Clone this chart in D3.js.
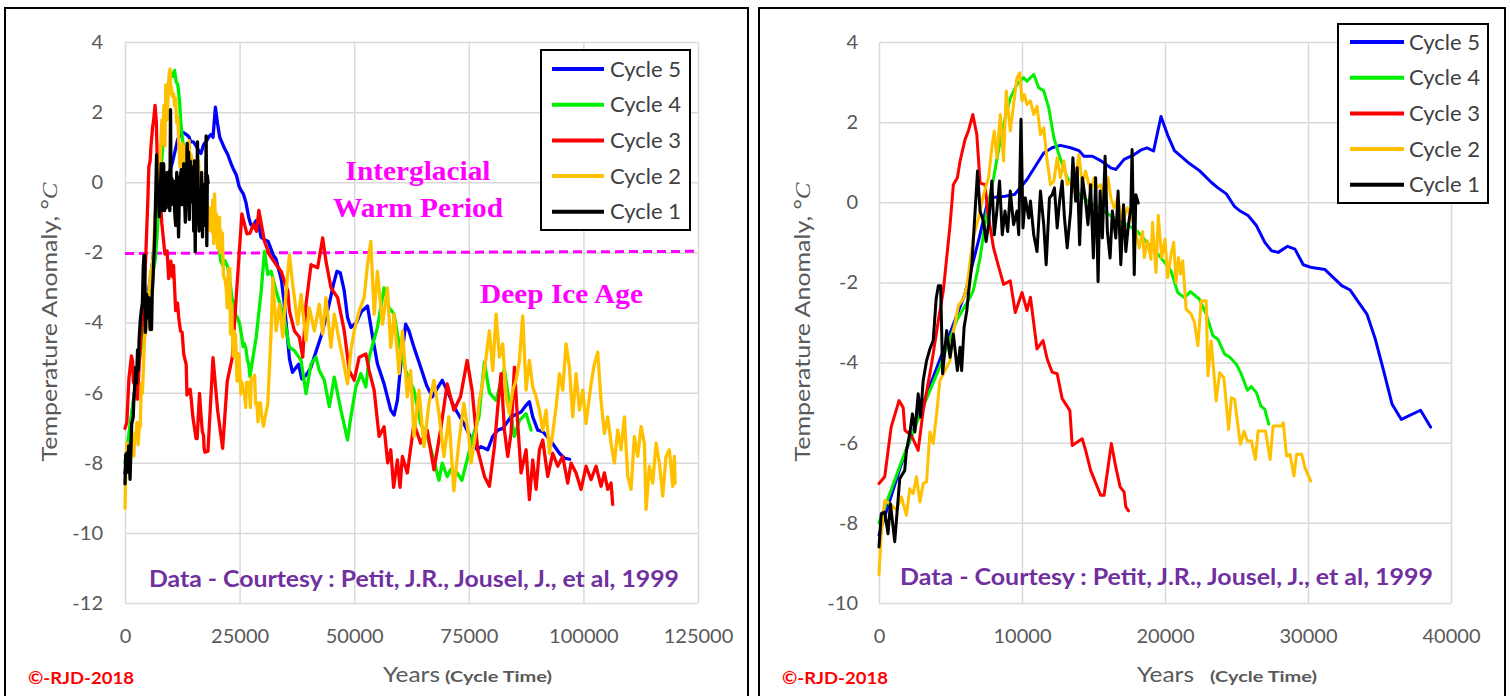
<!DOCTYPE html>
<html><head><meta charset="utf-8">
<script src="https://cdn.jsdelivr.net/npm/d3@7"></script>
<style>html,body{margin:0;padding:0;background:#fff;overflow:hidden} svg{display:block}</style>
</head><body>
<script>
// ---------------- DATA ----------------
const seriesNames = ["Cycle 5", "Cycle 4", "Cycle 3", "Cycle 2", "Cycle 1"];
const seriesColors = ["#0000FF", "#00F000", "#FF0000", "#FFC000", "#000000"];

// [years into cycle, temperature anomaly °C]
const cycle5 = [[0,-8.3],[1500,-6.6],[3000,-5.1],[4500,-3.7],[6000,-2.3],[7000,-0.9],[7660,0.11],[8830,0.15],[9500,0.2],[10350,0.57],[11520,1.23],[12100,1.36],[12690,1.42],[13400,1.36],[13980,1.29],[14330,1.15],[14920,1.15],[15500,1.04],[16200,0.86],[16560,0.82],[17140,1.07],[17850,1.19],[18300,1.3],[18735,1.36],[19200,1.28],[19720,2.14],[20190,1.67],[20660,1.29],[21590,1.0],[22410,0.79],[23230,0.5],[23700,0.36],[24290,0.21],[24870,-0.11],[25220,-0.21],[25810,-0.33],[26390,-0.58],[26980,-1.0],[27450,-1.21],[27920,-1.25],[28570,-1.1],[29090,-1.17],[29670,-1.56],[30260,-1.63],[31190,-1.68],[32360,-2.08],[32950,-2.19],[33540,-2.5],[34120,-2.79],[34710,-3.42],[35290,-4.21],[35880,-5.04],[36530,-5.42],[37870,-5.19],[38570,-5.61],[39500,-5.5],[40500,-5.3],[41500,-4.9],[43000,-4.3],[44500,-3.5],[45500,-2.9],[46230,-2.54],[46960,-2.58],[47830,-3.1],[48550,-3.86],[49280,-4.14],[50500,-4.0],[51500,-3.7],[52900,-3.53],[54000,-4.4],[55070,-5.18],[56520,-5.75],[57970,-6.5],[58700,-6.64],[59420,-6.22],[60300,-5.0],[61230,-4.05],[61960,-4.24],[63040,-4.71],[64490,-5.27],[65800,-5.8],[67030,-6.12],[68000,-5.9],[69200,-5.65],[70500,-6.0],[71740,-6.4],[73910,-6.88],[75500,-7.3],[76810,-7.63],[77680,-7.54],[79140,-7.63],[80230,-7.25],[81320,-7.07],[82410,-7.02],[84220,-6.69],[86400,-6.55],[87500,-6.36],[88220,-6.26],[88950,-6.69],[90040,-7.07],[91130,-7.11],[93000,-7.4],[94770,-7.73],[95860,-7.87],[97000,-7.9]];

const cycle4 = [[0,-8.0],[1690,-6.36],[3090,-5.1],[4260,-4.1],[5430,-2.95],[6370,-2.37],[6600,-2.2],[7070,-1.39],[7540,-0.22],[8010,0.6],[8600,1.78],[9180,2.6],[9650,2.94],[10120,3.11],[10350,3.02],[10820,3.19],[11170,2.86],[11520,2.78],[11870,2.36],[12230,1.61],[12580,1.19],[13160,0.61],[13750,0.28],[14330,0.11],[14800,-0.02],[15600,-0.2],[16500,-0.4],[17300,-0.55],[18080,-0.73],[18780,-1.02],[19720,-1.38],[20420,-1.71],[20890,-2.25],[21360,-2.38],[21780,-2.23],[22410,-2.42],[22880,-2.79],[23350,-3.33],[23700,-3.42],[24170,-3.79],[24520,-3.86],[24990,-4.04],[25340,-4.29],[25760,-4.69],[26040,-4.6],[26390,-4.75],[26700,-5.08],[26980,-5.17],[27260,-5.54],[28620,-4.42],[29710,-3.1],[30430,-1.97],[31160,-2.63],[31880,-2.54],[32970,-3.1],[34060,-3.58],[34780,-3.91],[35870,-4.71],[36960,-4.8],[38410,-5.08],[39490,-6.03],[40580,-5.18],[41670,-4.99],[42390,-5.37],[43480,-5.65],[44570,-6.4],[45650,-5.56],[47100,-6.5],[48550,-7.35],[49280,-6.69],[50360,-5.84],[51450,-5.46],[52540,-5.84],[53260,-4.99],[55070,-4.14],[56520,-3.01],[57610,-3.58],[58700,-3.76],[59780,-4.61],[61230,-5.37],[63040,-5.93],[64490,-6.88],[65940,-7.25],[67390,-7.92],[68500,-8.5],[69200,-8.01],[70300,-8.4],[71010,-8.2],[72460,-8.29],[73500,-8.5],[74640,-7.92],[76000,-7.2],[77200,-6.7],[78400,-5.13],[79500,-6.0],[80950,-6.22],[82770,-5.32],[84000,-6.5],[84950,-7.25],[86000,-6.8],[87500,-6.6],[88590,-7.07]];

const cycle3 = [[0,-7.02],[400,-6.85],[850,-5.61],[1400,-4.95],[1690,-5.12],[1810,-5.69],[2270,-5.82],[2740,-6.19],[3090,-5.2],[3680,-4.03],[4150,-2.95],[4500,-2.2],[4970,-0.56],[5200,0.44],[5480,0.61],[5670,1.03],[6020,1.57],[6250,1.78],[6560,2.19],[6840,1.69],[7070,0.48],[7420,0.44],[7590,-0.22],[8010,-1.14],[8360,-1.6],[8710,-2.05],[9180,-1.96],[9530,-2.75],[10000,-2.25],[10350,-2.7],[10590,-2.37],[11050,-3.66],[11470,-3.45],[11760,-3.91],[12110,-4.24],[12460,-4.28],[12810,-4.9],[13350,-5.2],[13510,-6.07],[14210,-5.9],[14450,-6.19],[14800,-6.69],[15500,-7.31],[15740,-7.31],[16250,-6.02],[16560,-6.61],[16860,-7.1],[17140,-7.23],[17260,-7.6],[17450,-7.7],[18100,-7.67],[19200,-5.0],[20200,-6.5],[21300,-7.59],[22300,-5.68],[23400,-5.0],[24300,-3.2],[25500,-0.9],[26600,-1.47],[27280,-1.45],[28000,-1.2],[28700,-1.4],[29200,-0.8],[30430,-1.69],[31520,-2.07],[32970,-2.35],[34060,-2.54],[35510,-3.1],[35870,-3.67],[36960,-4.24],[38050,-4.42],[38770,-4.99],[39490,-3.48],[40580,-2.35],[42030,-2.44],[43120,-1.59],[43840,-2.25],[44930,-3.01],[46380,-3.29],[47830,-4.24],[48910,-5.37],[50000,-5.65],[51090,-4.99],[52540,-4.9],[53260,-5.37],[54350,-5.93],[55430,-7.25],[56520,-6.97],[57300,-8.0],[57970,-7.63],[58600,-8.7],[59420,-7.92],[60000,-8.7],[60510,-7.82],[61590,-8.29],[62300,-7.6],[63040,-6.88],[64490,-7.44],[65940,-7.07],[67390,-8.2],[68840,-7.07],[70290,-5.75],[71740,-6.5],[73190,-6.12],[74640,-5.08],[75720,-5.93],[76950,-7.63],[78410,-8.39],[79500,-8.67],[80590,-7.54],[81320,-6.41],[82040,-5.46],[82770,-7.07],[83500,-7.82],[84220,-7.16],[84950,-5.27],[85670,-6.88],[86400,-8.29],[87500,-7.63],[88220,-9.05],[88950,-7.92],[89680,-8.76],[90400,-7.63],[91130,-7.35],[92220,-8.39],[93310,-7.73],[94400,-8.1],[95490,-7.82],[96580,-8.58],[97310,-8.01],[98400,-8.29],[99490,-8.76],[100580,-8.1],[101670,-8.48],[102760,-8.1],[103850,-8.67],[104580,-8.29],[105310,-8.76],[106030,-8.58],[106400,-9.19]];

const cycle2 = [[0,-9.3],[150,-8.3],[400,-7.44],[750,-7.52],[1220,-7.68],[1570,-7.35],[1920,-7.81],[2150,-7.15],[2390,-7.27],[2620,-6.85],[2860,-7.48],[3090,-7.02],[3330,-6.98],[3560,-5.73],[3790,-6.02],[4030,-5.27],[4260,-4.45],[4500,-4.28],[4970,-3.95],[5200,-3.24],[5550,-2.58],[5900,-2.41],[6140,-2.12],[6370,-1.48],[6600,-0.89],[6960,-0.39],[7310,0.19],[7660,0.61],[7890,1.36],[8060,1.78],[8240,1.11],[8480,2.19],[8710,1.03],[8900,2.78],[9180,1.78],[9410,2.44],[9650,3.11],[9840,3.23],[10000,2.53],[10160,2.69],[10350,2.44],[10590,2.53],[10820,2.19],[11050,2.4],[11290,1.69],[11520,1.86],[11760,1.03],[11990,0.44],[12230,0.53],[12460,1.11],[12690,0.61],[12930,1.03],[13160,0.44],[13400,0.53],[13630,0.28],[13980,1.19],[14220,0.44],[14450,0.78],[14800,0.28],[15040,0.61],[15270,0.36],[15500,0.44],[15740,0.11],[16020,0.61],[16210,0.11],[16440,-0.14],[16670,0.11],[17030,-0.48],[17380,-0.14],[17850,-0.56],[18200,-1.14],[18430,-0.73],[18550,-1.38],[18780,-0.96],[19020,-1.42],[19130,-0.5],[19370,-1.75],[19530,-0.33],[19770,-1.38],[20000,-0.92],[20190,-1.88],[20420,-1.29],[20610,-1.0],[20770,-2.0],[20940,-1.38],[21080,-1.79],[21240,-1.46],[21480,-2.67],[21830,-2.79],[22060,-3.0],[22300,-3.58],[22530,-2.46],[22880,-2.46],[23000,-4.33],[23230,-3.46],[23580,-4.96],[23820,-4.25],[24120,-4.38],[24450,-5.67],[24640,-4.88],[24870,-4.92],[25270,-6.04],[25530,-5.71],[25760,-5.96],[26040,-5.96],[26320,-6.42],[26510,-5.71],[27030,-5.71],[27350,-6.42],[27560,-5.58],[28150,-5.58],[28270,-5.5],[28500,-6.33],[28740,-6.29],[29020,-6.83],[29200,-6.29],[29560,-6.29],[29790,-6.63],[30190,-6.96],[31160,-6.31],[31880,-4.24],[32250,-2.73],[32970,-4.24],[33700,-3.48],[34420,-4.42],[35150,-3.1],[35870,-2.07],[36590,-2.92],[37680,-4.05],[38410,-3.2],[39490,-4.52],[40220,-3.58],[41300,-4.24],[42390,-3.48],[43120,-4.33],[43840,-3.29],[44930,-4.71],[45650,-3.76],[46740,-4.52],[47460,-4.99],[48550,-5.75],[49280,-4.8],[50000,-4.24],[51090,-3.67],[52170,-3.29],[52900,-2.35],[53620,-1.69],[54350,-3.76],[55070,-2.54],[56160,-4.05],[57250,-3.01],[57970,-4.71],[58700,-3.76],[59780,-5.46],[60510,-4.24],[61590,-6.12],[62320,-5.37],[63040,-7.25],[64130,-5.93],[65220,-7.54],[66300,-6.31],[67390,-5.65],[68480,-6.59],[69570,-7.82],[70650,-6.69],[71740,-8.8],[72820,-7.44],[73910,-6.31],[75000,-7.25],[75500,-8.0],[76600,-7.07],[77300,-6.22],[78000,-5.75],[78770,-4.99],[79500,-4.24],[80230,-5.37],[80950,-3.76],[81680,-4.99],[82400,-4.61],[83130,-6.12],[83860,-6.59],[84580,-5.93],[85310,-5.65],[86040,-5.08],[86760,-3.81],[87500,-5.93],[88220,-5.08],[88950,-5.84],[89680,-6.12],[90400,-6.5],[91130,-7.07],[91860,-6.5],[92580,-7.73],[93310,-7.16],[94040,-6.41],[94770,-5.46],[95490,-5.93],[96220,-4.61],[96950,-5.27],[97670,-6.69],[98400,-5.46],[99130,-6.5],[99850,-5.93],[100580,-6.88],[101670,-5.75],[102400,-5.18],[103130,-4.85],[103850,-6.22],[104580,-7.16],[105310,-6.69],[106030,-7.44],[106760,-8.01],[107490,-7.07],[108210,-7.63],[108940,-6.69],[109670,-8.39],[110400,-8.76],[111120,-7.25],[111850,-7.82],[112580,-6.97],[113300,-7.44],[113670,-9.33],[114390,-8.1],[115120,-8.58],[115850,-7.44],[116580,-8.01],[117300,-8.95],[118030,-7.82],[118760,-7.63],[119490,-8.67],[119850,-7.82],[120000,-8.58]];

const cycle1 = [[0,-8.6],[160,-7.77],[400,-7.73],[630,-8.27],[800,-7.52],[1100,-8.47],[1450,-6.9],[1800,-6.69],[1920,-6.19],[2150,-5.78],[2340,-5.28],[2510,-5.73],[2740,-4.78],[2900,-5.36],[3090,-4.45],[3330,-3.95],[3560,-3.66],[3790,-3.45],[4000,-2.4],[4150,-2.08],[4310,-2.08],[4450,-4.28],[4730,-3.2],[4970,-3.87],[5200,-3.29],[5480,-4.2],[5670,-3.62],[5780,-4.2],[5950,-3.12],[6140,-2.71],[6250,-2.29],[6490,-1.56],[6720,-0.22],[6890,0.78],[7070,-0.22],[7310,-0.48],[7490,-0.98],[7660,-0.56],[7890,0.53],[8060,-0.81],[8240,-0.22],[8430,0.53],[8620,-0.81],[8810,-0.22],[9000,-0.73],[9180,0.28],[9410,-0.56],[9650,-0.22],[9770,-0.81],[9930,2.07],[10070,-0.64],[10230,0.11],[10470,-0.39],[10590,0.03],[10820,-0.81],[11050,-1.23],[11290,0.28],[11520,-0.56],[11690,-1.56],[11920,0.11],[12110,0.19],[12270,0.36],[12460,-0.64],[12650,0.11],[12810,0.53],[12970,-0.39],[13160,-1.14],[13400,-0.22],[13560,1.11],[13750,0.03],[13860,0.86],[14030,-1.06],[14220,0.61],[14450,0.03],[14610,-0.56],[14800,0.44],[14990,-1.39],[15150,0.61],[15320,-1.98],[15460,0.28],[15620,-0.89],[15810,1.15],[15970,-0.73],[16160,-1.39],[16320,-0.22],[16560,-0.89],[16720,0.28],[16910,-1.56],[17100,-0.06],[17260,-1.23],[17420,-0.64],[17610,-0.14],[17700,1.32],[17850,-1.81],[17960,0.19],[18130,-0.02]];

const allCycles = [cycle5, cycle4, cycle3, cycle2, cycle1];
// last year of each cycle shown in the right (zoomed) chart
const rightEndYears = [38570, 27260, 17450, 30190, 18130];

const leftXTicks = [0, 25000, 50000, 75000, 100000, 125000];
const leftYTicks = [-12, -10, -8, -6, -4, -2, 0, 2, 4];
const rightXTicks = [0, 10000, 20000, 30000, 40000];
const rightYTicks = [-10, -8, -6, -4, -2, 0, 2, 4];
const thresholdLine = [[0, -2.03], [125000, -1.97]];
const warmLabel = ["Interglacial", "Warm Period"];
const iceLabel = "Deep Ice Age";
const creditText = "Data - Courtesy : Petit, J.R., Jousel, J., et al, 1999";
const copyrightText = "©-RJD-2018";
const yTitleMain = "Temperature Anomaly, °";
const yTitleUnit = "C";
const xTitleMain = "Years";
const xTitleSub = "(Cycle Time)";

// ---------------- DRAW ----------------
const W = 1510, H = 696;
const svg = d3.select("body").append("svg").attr("width", W).attr("height", H)
  .style("font-family", "Lato, 'Noto Sans', sans-serif");
svg.append("rect").attr("width", W).attr("height", H).attr("fill", "#fff");

const GRID = "#d9d9d9", TXT = "#595959";

function drawPanel(o) {
  const g = svg.append("g");
  g.append("rect").attr("x", o.frame[0]).attr("y", o.frame[1]).attr("width", o.frame[2]).attr("height", o.frame[3])
    .attr("fill", "none").attr("stroke", "#000").attr("stroke-width", 2);

  const x = d3.scaleLinear().domain(o.xDomain).range([o.x0, o.x1]);
  const y = d3.scaleLinear().domain(o.yDomain).range([o.y1, o.y0]);

  const ya = g.append("g").attr("transform", `translate(${o.x0},0)`)
    .call(d3.axisLeft(y).tickValues(o.yTicks).tickSize(-(o.x1 - o.x0)).tickPadding(o.yPad).tickFormat(d3.format("d")));
  const xa = g.append("g").attr("transform", `translate(0,${o.y1})`)
    .call(d3.axisBottom(x).tickValues(o.xTicks).tickSize(-(o.y1 - o.y0)).tickPadding(26).tickFormat(d3.format("d")));
  [ya, xa].forEach(a => {
    a.select(".domain").remove();
    a.selectAll(".tick line").attr("stroke", GRID).attr("stroke-width", 1.5);
    a.selectAll(".tick text").attr("fill", TXT).style("font-size", "20px").style("font-family", "Lato, sans-serif");
  });
  ya.selectAll(".tick text").text(d => d < 0 ? "-" + Math.abs(d) : d);

  if (o.threshold) {
    g.append("path").datum(thresholdLine)
      .attr("d", d3.line().x(d => x(d[0])).y(d => y(d[1])))
      .attr("fill", "none").attr("stroke", "#FF00FF").attr("stroke-width", 3).attr("stroke-dasharray", "9,5");
  }

  const line = d3.line().x(d => x(d[0])).y(d => y(d[1]));
  allCycles.forEach((c, i) => {
    const data = o.ends ? c.filter(d => d[0] <= o.ends[i]) : c;
    g.append("path").datum(data).attr("d", line)
      .attr("fill", "none").attr("stroke", seriesColors[i]).attr("stroke-width", o.lineW)
      .attr("stroke-linejoin", "round").attr("stroke-linecap", "round");
  });

  if (o.threshold) {
    const t = g.append("text").attr("fill", "#FF00FF").attr("text-anchor", "middle")
      .style("font-family", "'Liberation Serif', 'DejaVu Serif', serif").style("font-weight", "bold").style("font-size", "27px");
    t.append("tspan").attr("x", 418).attr("y", 180).attr("textLength", 145).attr("lengthAdjust", "spacingAndGlyphs").text(warmLabel[0]);
    t.append("tspan").attr("x", 418).attr("y", 217).attr("textLength", 170).attr("lengthAdjust", "spacingAndGlyphs").text(warmLabel[1]);
    g.append("text").attr("x", 561.5).attr("y", 303).attr("fill", "#FF00FF").attr("text-anchor", "middle")
      .attr("textLength", 163).attr("lengthAdjust", "spacingAndGlyphs")
      .style("font-family", "'Liberation Serif', 'DejaVu Serif', serif").style("font-weight", "bold").style("font-size", "27px")
      .text(iceLabel);
  }

  const L = o.legend;
  g.append("rect").attr("x", L.x).attr("y", L.y).attr("width", L.w).attr("height", L.h)
    .attr("fill", "#fff").attr("stroke", "#000").attr("stroke-width", 2);
  seriesNames.forEach((n, i) => {
    const yy = L.y0 + i * L.dy;
    g.append("line").attr("x1", L.lx1).attr("x2", L.lx2).attr("y1", yy).attr("y2", yy)
      .attr("stroke", seriesColors[i]).attr("stroke-width", 4);
    g.append("text").attr("x", L.tx).attr("y", yy + 7.5).attr("fill", "#404040")
      .style("font-size", "22px").text(n);
  });

  const yt = g.append("text").attr("transform", `translate(${o.yTitleX},${o.yTitleY}) rotate(-90)`)
    .attr("text-anchor", "middle").attr("fill", TXT).style("font-size", "22px")
    .attr("textLength", 279).attr("lengthAdjust", "spacingAndGlyphs");
  yt.append("tspan").text(yTitleMain);
  yt.append("tspan").style("font-style", "italic").style("font-family", "'Liberation Serif', serif").text(yTitleUnit);

  g.append("text").attr("x", o.yearsX).attr("y", 682).attr("fill", TXT).style("font-size", "22px")
    .attr("textLength", 57).attr("lengthAdjust", "spacingAndGlyphs").text(xTitleMain);
  g.append("text").attr("x", o.subX).attr("y", 682).attr("fill", TXT).style("font-size", "16px").style("font-weight", "bold")
    .attr("textLength", 107).attr("lengthAdjust", "spacingAndGlyphs").text(xTitleSub);

  g.append("text").attr("x", o.creditX).attr("y", o.creditY).attr("fill", "#7030A0")
    .style("font-size", "22px").style("font-weight", "bold")
    .attr("textLength", o.creditW).attr("lengthAdjust", "spacingAndGlyphs").text(creditText);
  g.append("text").attr("x", o.copyX).attr("y", 684).attr("fill", "#FF0000")
    .style("font-size", "17px").style("font-weight", "bold")
    .attr("textLength", 106).attr("lengthAdjust", "spacingAndGlyphs").text(copyrightText);
}

drawPanel({
  frame: [5, 8, 743, 700], x0: 125, x1: 698, y0: 42, y1: 603,
  xDomain: [0, 125000], yDomain: [-12, 4], xTicks: leftXTicks, yTicks: leftYTicks, yPad: 22,
  threshold: true, ends: null, lineW: 3.3,
  legend: { x: 541, y: 50, w: 149, h: 180, y0: 69, dy: 35.7, lx1: 552, lx2: 604, tx: 610 },
  yTitleX: 57, yTitleY: 322, yearsX: 383, subX: 445,
  creditX: 149, creditY: 587, creditW: 530, copyX: 28
});

drawPanel({
  frame: [759, 8, 746, 700], x0: 879, x1: 1451, y0: 42, y1: 603,
  xDomain: [0, 40000], yDomain: [-10, 4], xTicks: rightXTicks, yTicks: rightYTicks, yPad: 21,
  threshold: false, ends: rightEndYears, lineW: 3,
  legend: { x: 1338, y: 24, w: 150, h: 179, y0: 42, dy: 35.7, lx1: 1350, lx2: 1404, tx: 1409 },
  yTitleX: 810, yTitleY: 322, yearsX: 1137, subX: 1210,
  creditX: 900, creditY: 585, creditW: 533, copyX: 782
});
</script>
</body></html>
